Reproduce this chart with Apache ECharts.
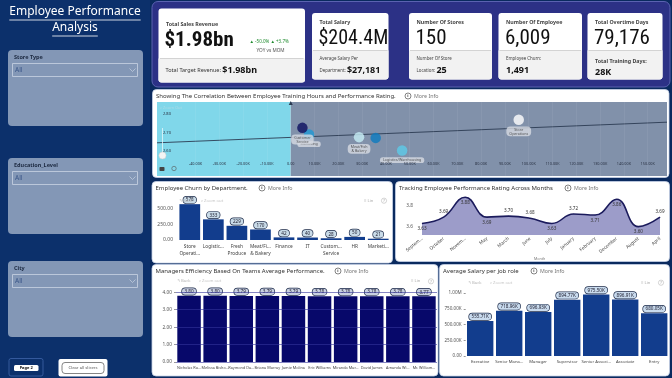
<!DOCTYPE html>
<html><head><meta charset="utf-8">
<script src="https://cdn.jsdelivr.net/npm/echarts@6/dist/echarts.min.js"></script>
<style>html,body{margin:0;padding:0;background:#0c306b;}#c{width:672px;height:378px;}</style>
</head><body><div id="c"></div><script>
// ---------- DATA ----------
const scatterDepts = ['Marketing','Customer Service','Meat/Fish & Bakery','Fresh Produce','Logistics/Warehousing','Store Operations'];
const scatterHours = [7700, 4900, 28700, 35700, 46800, 95800];
const scatterRating = [2.689, 2.725, 2.675, 2.671, 2.603, 2.769];
const trendHours = [-56200, 158100];
const trendRating = [2.6445, 2.7555];
const scatterXTicks = [-40000,-30000,-20000,-10000,0,10000,20000,30000,40000,50000,60000,70000,80000,90000,100000,110000,120000,130000,140000,150000];
const scatterYTicks = [2.6, 2.7, 2.8];

const churnDepts = ['Store Operations','Logistics/Warehousing','Fresh Produce','Meat/Fish & Bakery','Finance','IT','Customer Service','HR','Marketing'];
const churnTickLabels = ['Store\nOperati...','Logistic...','Fresh\nProduce','Meat/Fi...\n& Bakery','Finance','IT','Custom...\nService','HR','Marketi...'];
const churnValues = [578, 333, 229, 170, 42, 40, 28, 50, 21];
const churnYTicks = [0, 250, 500];

const months = ['September','October','November','May','March','June','July','January','February','December','August','April'];
const monthTickLabels = ['Septem...','October','Novem...','May','March','June','July','January','February','December','August','April'];
const monthRating = [3.63, 3.69, 3.88, 3.69, 3.70, 3.68, 3.63, 3.72, 3.71, 3.86, 3.60, 3.69];
const monthYTicks = [3.6, 3.8];

const managers = ['Nicholas Ru...','Melissa Bisho...','Raymond Da...','Briana Murray','Jamie Molina','Eric Williams','Miranda Mur...','David James','Amanda Wi...','Mr. William...'];
const managerRating = [3.80, 3.80, 3.79, 3.79, 3.79, 3.78, 3.78, 3.78, 3.78, 3.77];

const jobRoles = ['Executive','Senior Mana...','Manager','Supervisor','Senior Associ...','Associate','Entry'];
const roleSalary = [555710, 718960, 696930, 894770, 975500, 896910, 680050];

const kpiTitles = ['Total Salary','Number Of Stores','Number Of Employee','Total Overtime Days'];
const kpiValues = ['$204.4M','150','6,009','79,176'];
const kpiSubLine1 = ['Average Salary Per','Number Of Store','Employee Churn:','Total Training Days:'];
const kpiSubLine2 = ['Department:','Location:','',''];
const kpiSubValues = ['$27,181','25','1,491','28K'];
const salesTitle = 'Total Sales Revenue';
const salesValue = '$1.98bn';
const salesChange = '▲ -50.0% ▲ +3.7%';
const salesChangeLabel = 'YOY vs MOM';
const targetLabel = 'Total Target Revenue:';
const targetValue = '$1.98bn';
const slicers = ['Store Type','Education_Level','City'];

// ---------- DRAW ----------
const FF = '"Noto Sans", "Open Sans", sans-serif';
const NARROW = '"Liberation Sans Narrow", "Roboto Condensed", Roboto, sans-serif';
const chart = echarts.init(document.getElementById('c'), null, {renderer:'canvas', width:672, height:378});
const G = [];
function T(x,y,text,o){ G.push({type:'text', z:20, silent:true, style:Object.assign({x:x,y:y,text:text,fill:'#333',fontSize:6,fontFamily:FF,verticalAlign:'middle',align:'left'},o||{})}); }
function R(x,y,w,h,o){ o=o||{}; G.push({type:'rect', z:(o.z!==undefined?o.z:1), silent:true, shape:{x:x,y:y,width:w,height:h,r:o.r||0}, style:{fill:o.fill||'none', stroke:o.stroke||'none', lineWidth:o.lw||0}}); }
function L(x1,y1,x2,y2,o){ o=o||{}; G.push({type:'line', z:o.z||15, silent:true, shape:{x1:x1,y1:y1,x2:x2,y2:y2}, style:{stroke:o.stroke||'#333', lineWidth:o.lw||1}}); }
function C(cx,cy,r,o){ o=o||{}; G.push({type:'circle', z:o.z||15, silent:true, shape:{cx:cx,cy:cy,r:r}, style:{fill:o.fill||'none', stroke:o.stroke||'none', lineWidth:o.lw||0}}); }
function P(points,o){ o=o||{}; G.push({type:'polyline', z:o.z||15, silent:true, shape:{points:points}, style:{stroke:o.stroke||'#333', lineWidth:o.lw||0.8, fill:'none'}}); }
const mctx = document.createElement('canvas').getContext('2d');
function measure(text, font){ mctx.font = font; return mctx.measureText(text).width; }

// right background
R(150,0,522,378,{fill:'#0a2a5f', z:0});

// sidebar title
T(75,12,'Employee Performance',{align:'center',fontSize:12,fill:'#fff'});
T(75,28,'Analysis',{align:'center',fontSize:12,fill:'#fff'});
let w1 = measure('Employee Performance','12px "Noto Sans"'), w2 = measure('Analysis','12px "Noto Sans"');
L(75-w1/2,20,75+w1/2,20,{stroke:'#fff',lw:0.8});
L(75-w2/2,36,75+w2/2,36,{stroke:'#fff',lw:0.8});

// slicers
const slicerY = [50, 158, 261];
slicers.forEach((s,i)=>{
  const y = slicerY[i];
  R(8,y,135,76,{fill:'#8397b6',r:4});
  T(14,y+7.5,s,{fontSize:5.5,fontWeight:'bold',fill:'#1c2940'});
  R(12.5,y+13.5,125,13,{stroke:'#c9d3e3',lw:0.8,z:2});
  T(15,y+20.5,'All',{fontSize:6.5,fill:'#3a5688'});
  P([[129.5,y+18.5],[132.5,y+21.5],[135.5,y+18.5]],{stroke:'#c9d3e3',lw:0.7});
});
// buttons
R(9,358.5,34,17.5,{stroke:'#3f64a8',lw:0.8,r:2,z:2});
R(14,365,24.5,6,{fill:'#fff',r:1.5,z:3});
T(26.2,368,'Page 2',{align:'center',fontSize:4,fill:'#111',fontWeight:'bold'});
R(58.5,359,49,17.5,{fill:'#fff',r:2,z:2});
R(62,362.5,42,11,{stroke:'#666',lw:0.8,r:3,z:3});
T(83,368,'Clear all slicers',{align:'center',fontSize:4.2,fill:'#555'});

// KPI band
R(152,1.5,518,85.5,{fill:'#2c3186',stroke:'#5a62b0',lw:1,r:6});
// card 1
R(158.5,8.5,146.5,74,{fill:'#fff',r:3,z:2});
R(158.5,58.5,146.5,24,{fill:'#f2f2f2',r:[0,0,3,3],z:3});
L(160,58.5,303.5,58.5,{stroke:'#bbb',lw:0.6});
T(166,24,salesTitle,{fontSize:5.3,fill:'#444',fontWeight:'bold'});
T(164.5,40.5,salesValue,{fontFamily:NARROW,fontSize:21,fontWeight:'bold',fill:'#111'});
T(249.5,41.7,salesChange,{fontSize:4.5,fill:'#1d8a2c'});
T(256.5,51,salesChangeLabel,{fontSize:4.7,fill:'#555'});
T(165.5,70.5,'{a|'+targetLabel+' }{b|'+targetValue+'}',{rich:{a:{fontSize:5.5,fill:'#333',fontFamily:FF},b:{fontSize:9,fontWeight:'bold',fill:'#111',fontFamily:FF}}});
// cards 2-5
const cardX = [312, 409, 498.5, 587.5], cardW = [76.5, 83, 83.5, 75];
kpiTitles.forEach((t,i)=>{
  const x = cardX[i], w = cardW[i];
  R(x,13,w,66.5,{fill:'#fff',r:3,z:2});
  R(x,50.5,w,29,{fill:'#f2f2f2',r:[0,0,3,3],z:3});
  L(x+1,50.5,x+w-1,50.5,{stroke:'#bbb',lw:0.6});
  T(x+7.5,22.7,t,{fontSize:5.3,fill:'#444',fontWeight:'bold'});
  T(x+6.5,38.8,kpiValues[i],{fontFamily:NARROW,fontSize:i===0?20:21,fill:'#111'});
  const last = i===3;
  T(x+7.5,last?61:59,kpiSubLine1[i],{fontSize:last?5.3:4.4,fill:'#444',fontWeight:last?'bold':'normal'});
  const pre = kpiSubLine2[i] ? '{a|'+kpiSubLine2[i]+' }' : '';
  T(x+7.5,last?72:70.8,pre+'{b|'+kpiSubValues[i]+'}',{rich:{a:{fontSize:4.4,fill:'#444',fontFamily:FF},b:{fontSize:9,fontWeight:'bold',fill:'#111',fontFamily:FF}}});
});

// panels
function panel(x,y,w,h,title,infoX){
  R(x,y,w,h,{fill:'#fff',r:4,stroke:'#c7d2e6',lw:0.8});
  T(x+3.5,y+6.5,title,{fontSize:6,fill:'#333'});
  C(infoX,y+6.5,3,{stroke:'#333',lw:0.6});
  T(infoX,y+6.7,'i',{align:'center',fontSize:4.2,fontWeight:'bold',fill:'#333'});
  T(infoX+6,y+6.7,'More Info',{fontSize:5.3,fill:'#777'});
}
function toolbar(x1,x2,y){
  T(x1,y,'↰ Back',{fontSize:4.2,fill:'#b5b5b5'});
  T(x1+22,y,'⌕ Zoom out',{fontSize:4.2,fill:'#c5c5c5'});
  T(x2,y,'≡ Lin',{fontSize:4.2,fill:'#aaa'});
  C(x2+20,y,2.6,{stroke:'#aaa',lw:0.5});
  T(x2+20,y+0.2,'?',{align:'center',fontSize:3.6,fill:'#999'});
}
panel(152.5,89.5,516.5,88,'Showing The Correlation Between Employee Training Hours and Performance Rating.',408);
panel(152,181.5,240.5,81.5,'Employee Churn by Department.',262);
panel(395.5,181.5,274,80,'Tracking Employee Performance Rating Across Months',568);
panel(152,264.5,286,111.5,'Managers Efficiency Based On Teams Average Performance.',338);
panel(439.5,264.5,230,111.5,'Average Salary per job role',534);
toolbar(179,364,200.7);
toolbar(177,411,281.3);
toolbar(468,641,282.7);
T(539.7,259,'Month',{align:'center',fontSize:3.6,fill:'#777'});
// scatter controls
T(160,108,'⌕ Zoom Out',{fontSize:4,fill:'#a9dbe6',z:30});
L(162.5,128,162.5,156,{stroke:'#e6f6fa',lw:0.8,z:30});
C(162.5,155.5,3.6,{fill:'#f4f4f4',stroke:'#c8c8c8',lw:0.5,z:31});
R(159.5,167,5,4,{fill:'#444',r:0.8,z:30});
C(174,168.5,2.2,{stroke:'#555',lw:0.6,z:30});

// ---------- CHART OPTION ----------
const lblBubble = (bg)=>({show:true, position:'top', distance:1, fontSize:4.6, color:'#223', fontFamily:FF, backgroundColor:bg, borderColor:'#1c2a48', borderWidth:0.7, borderRadius:4, padding:[1,2.5,0.5,2.5]});
const xMin = -56200, xMax = 158100;
const AZ = 10;

const option = {
  animation:false,
  graphic:{elements:G},
  grid:[
    {left:157, top:102, width:510, height:74},
    {left:178, top:202.8, width:212, height:37.2},
    {left:422, top:193, width:238, height:42},
    {left:176, top:292.3, width:261, height:69.7},
    {left:465.7, top:293, width:203, height:63}
  ],
  xAxis:[
    {gridIndex:0, z:AZ, type:'value', min:xMin, max:xMax, axisLine:{show:false}, axisTick:{show:false},
     splitLine:{show:false},
     axisLabel:{inside:true, margin:10, customValues:scatterXTicks, fontSize:3.8, color:'#2a3344', fontFamily:FF,
       formatter:v=> v===0 ? '0.00' : (v/1000).toFixed(2)+'K'}},
    {gridIndex:1, z:AZ, type:'category', data:churnDepts, axisLine:{show:false}, axisTick:{show:false},
     axisLabel:{interval:0, fontSize:4.8, lineHeight:7, color:'#444', margin:3, fontFamily:FF, formatter:(v,i)=>churnTickLabels[i]}},
    {gridIndex:2, z:AZ, type:'category', data:months, boundaryGap:false, axisLine:{show:false}, axisTick:{show:false},
     axisLabel:{interval:0, rotate:40, fontSize:4.6, color:'#444', margin:3, fontFamily:FF, formatter:(v,i)=>monthTickLabels[i]}},
    {gridIndex:3, z:AZ, type:'category', data:managers, axisLine:{show:false}, axisTick:{show:false},
     axisLabel:{interval:0, fontSize:3.8, color:'#444', margin:4, fontFamily:FF}},
    {gridIndex:4, z:AZ, type:'category', data:jobRoles, axisLine:{show:false}, axisTick:{show:false},
     axisLabel:{interval:0, fontSize:4.2, color:'#444', margin:4, fontFamily:FF}}
  ],
  yAxis:[
    {gridIndex:0, z:AZ, type:'value', min:2.466, max:2.864, axisLine:{show:false}, axisTick:{show:false}, splitLine:{show:false},
     axisLabel:{inside:true, margin:6, customValues:scatterYTicks, fontSize:4, color:'#2a3344', fontFamily:FF, formatter:v=>v.toFixed(2)}},
    {gridIndex:1, z:AZ, type:'value', min:0, max:600, axisLine:{show:false}, axisTick:{show:false}, splitLine:{show:false},
     axisLabel:{customValues:churnYTicks, fontSize:5, color:'#555', margin:5, fontFamily:FF, formatter:v=>v.toFixed(2)}},
    {gridIndex:2, z:AZ, type:'value', min:3.52, max:3.92, axisLine:{show:false}, axisTick:{show:false}, splitLine:{show:false},
     axisLabel:{customValues:monthYTicks, fontSize:4.8, color:'#555', margin:9, fontFamily:FF, formatter:v=>v.toFixed(1)}},
    {gridIndex:3, z:AZ, type:'value', min:0, max:4, interval:1, axisLine:{show:false}, axisTick:{show:true, length:2, lineStyle:{color:'#999'}},
     splitLine:{show:true, lineStyle:{color:'#34349a', width:0.6}},
     axisLabel:{fontSize:4.8, color:'#555', margin:4, fontFamily:FF, formatter:v=>v.toFixed(2)}},
    {gridIndex:4, z:AZ, type:'value', min:0, max:1000000, interval:250000, axisLine:{show:false}, axisTick:{show:true, length:2, lineStyle:{color:'#999'}},
     splitLine:{show:false},
     axisLabel:{fontSize:4.6, color:'#555', margin:4, fontFamily:FF,
       formatter:v=> v===0 ? '0.00' : (v>=1e6 ? (v/1e6).toFixed(2)+'M' : (v/1e3).toFixed(2)+'K')}}
  ],
  series:[
    {type:'line', xAxisIndex:0, yAxisIndex:0, z:2, silent:true, symbol:'none',
     data: trendHours.map((h,i)=>[h, trendRating[i]]),
     lineStyle:{color:'#2b3b52', width:0.9},
     markArea:{silent:true, data:[
       [{xAxis:xMin, itemStyle:{color:'#80d7ea'}},{xAxis:0}],
       [{xAxis:0, itemStyle:{color:'#8191aa'}},{xAxis:xMax}]
     ]},
     markLine:{silent:true, symbol:'none', label:{show:false}, lineStyle:{color:'rgba(255,255,255,0.13)', width:0.5, type:'solid'},
       data: scatterXTicks.map(v=>({xAxis:v}))},
     markPoint:{silent:true, symbol:'triangle', symbolSize:[4,4], itemStyle:{color:'#2b3b52'}, label:{show:false},
       data:[{coord:[0, 2.858]}]}
    },
    {type:'scatter', xAxisIndex:0, yAxisIndex:0, z:4, symbolSize:10.5,
     data: scatterDepts.map((d,i)=>({name:d, value:[scatterHours[i], scatterRating[i]],
       itemStyle:{color:['#1f98d4','#0b0f5f','#c6edf5','#0c7bbf','#5ccbe9','#ffffff'][i]},
       label:{show: d!=='Fresh Produce'}})),
     label:{show:true, position:'bottom', distance:1.5, fontSize:3.6, lineHeight:4.2, color:'#333', fontFamily:FF,
       backgroundColor:'#d7dbe2', borderRadius:4, padding:[1,3,0.5,3], formatter:p=>p.name.replace(' ','\n')}},
    {type:'bar', xAxisIndex:1, yAxisIndex:1, z:2, barWidth:'88%', data:churnValues,
     itemStyle:{color:'#123d8d'}, label:Object.assign(lblBubble('#c9dbe8'),{formatter:p=>String(p.value)})},
    {type:'line', xAxisIndex:2, yAxisIndex:2, z:2, smooth:0.45, symbol:'circle', symbolSize:0.5, showSymbol:true,
     itemStyle:{color:'#1b1b5c'},
     data: monthRating.map((v,i)=>({value:v, label:{position:['bottom','top','bottom','bottom','top','top','bottom','top','bottom','bottom','bottom','top'][i]}})),
     lineStyle:{color:'#1b1b5c', width:1.6}, areaStyle:{color:'#9c9cc9', opacity:1},
     label:{show:true, fontSize:4.6, color:'#333', distance:2.5, fontFamily:FF, formatter:p=>p.value.toFixed(2)}},
    {type:'bar', xAxisIndex:3, yAxisIndex:3, z:2, barWidth:'90%', data:managerRating,
     itemStyle:{color:'#07086a'}, label:Object.assign(lblBubble('#c9d0e2'),{formatter:p=>p.value.toFixed(2)})},
    {type:'bar', xAxisIndex:4, yAxisIndex:4, z:2, barWidth:'91%', data:roleSalary,
     itemStyle:{color:'#123d8d'}, label:Object.assign(lblBubble('#c9dbee'),{formatter:p=>(p.value/1000).toFixed(2)+'K'})}
  ]
};
chart.setOption(option);
</script></body></html>
